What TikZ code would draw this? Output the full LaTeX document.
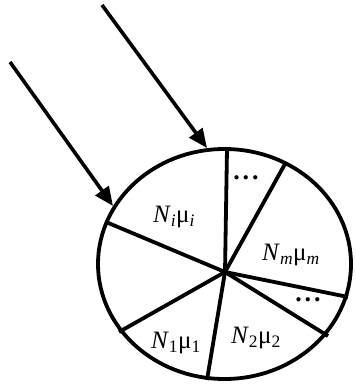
\documentclass[tikz,border=0pt]{standalone}
\usepackage{fontspec}
\setmainfont{Liberation Serif}
\usetikzlibrary{arrows.meta, positioning, shapes.geometric}

\tikzset{
  rim/.style={draw, ellipse, line width=3.8pt, minimum width=253pt, minimum height=230pt, inner sep=0pt},
  spoke/.style={line width=3.8pt},
  beam/.style={line width=3.6pt, -{Triangle[length=19pt, width=16pt]}},
  part/.style={font=\fontsize{25}{28}\selectfont},
  gap/.style={font=\fontsize{26}{28}\selectfont\bfseries}
}
\newcommand{\Nmu}[1]{\textit{N}\textsubscript{#1}μ\textsubscript{#1}}

\begin{document}
\begin{tikzpicture}[x=1pt, y=-1pt]
    \useasboundingbox (0,0) rectangle (355,387);

    % ==================== GRAIN ====================
    \node [rim] (grain) at (224.5, 264) {};
    \coordinate (hub) at (225, 272);

    % spoke ends on the rim
    \coordinate (s1) at (227, 149);
    \coordinate (s2) at (285, 164);
    \coordinate (s3) at (348, 297);
    \coordinate (s4) at (328, 336);
    \coordinate (s5) at (207, 380);
    \coordinate (s6) at (119, 332);
    \coordinate (s7) at (106, 222);

    \foreach \s in {s1, s2, s3, s4, s5, s6, s7}
        \draw [spoke] (hub) -- (\s);

    % ==================== INCOMING BEAMS ====================
    \coordinate (b1) at (102, 5);
    \coordinate (t1) at (207, 148);
    \coordinate (b2) at (10, 62);
    \coordinate (t2) at (113, 206);
    \draw [beam] (b1) -- (t1);
    \draw [beam] (b2) -- (t2);

    % ==================== LABELS ====================
    \node [part] (pi) at (174, 217) {\Nmu{\textit{i}}};
    \node [part] (pm) at (291, 255) {\Nmu{\textit{m}}};
    \node [part] (p2) at (256, 338) {\Nmu{2}};
    \node [part] (p1) at (176, 343) {\Nmu{1}};
    \node [gap] (d1) at (246, 178) {.\hspace{3pt}.\hspace{3pt}.};
    \node [gap] (d2) at (308, 300) {.\hspace{3pt}.\hspace{3pt}.};

\end{tikzpicture}
\end{document}
